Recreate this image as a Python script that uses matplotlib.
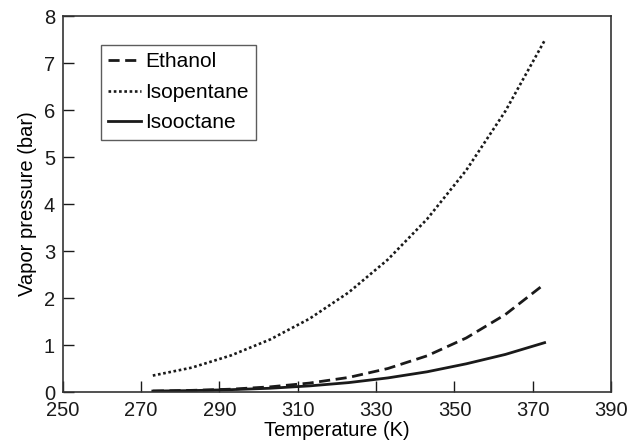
import numpy as np
import matplotlib
matplotlib.use('Agg')
import matplotlib.pyplot as plt

plt.rcParams['font.family'] = ['Liberation Sans', 'DejaVu Sans']

# Vapor pressure (bar)
temp = [273, 283, 293, 303, 313, 323, 333, 343, 353, 363, 373]
ethanol = [0.02, 0.035, 0.06, 0.11, 0.19, 0.31, 0.50, 0.77, 1.15, 1.65, 2.30]
isopentane = [0.35, 0.52, 0.78, 1.12, 1.56, 2.12, 2.82, 3.68, 4.72, 5.98, 7.48]
isooctane = [0.02, 0.03, 0.05, 0.08, 0.13, 0.20, 0.30, 0.43, 0.60, 0.80, 1.05]

fig = plt.figure(figsize=(6.4, 4.48), dpi=100)
ax = fig.add_axes([0.098, 0.125, 0.857, 0.839])

col = '#1a1a1a'
ax.plot(temp, ethanol, ls=(0, (4, 2)), color=col, lw=2.0, label='Ethanol')
ax.plot(temp, isopentane, ls=(0, (1, 1)), color=col, lw=1.9, label='Isopentane')
ax.plot(temp, isooctane, ls='-', color=col, lw=2.0, label='Isooctane')

ax.set_xlim(250, 390)
ax.set_ylim(0, 8)
ax.set_xticks(np.arange(250, 391, 20))
ax.set_yticks(np.arange(0, 9, 1))
ax.tick_params(direction='in', length=8, width=1, labelsize=14.5, colors=col,
               top=False, right=False)
ax.tick_params(axis='x', pad=6.5)
ax.tick_params(axis='y', pad=5.5)
for s in ax.spines.values():
    s.set_linewidth(1.2)
    s.set_color('#333333')

ax.set_xlabel('Temperature (K)', fontsize=14.5, labelpad=0.5)
ax.set_ylabel('Vapor pressure (bar)', fontsize=14.5, labelpad=5)

leg = ax.legend(loc='upper left', bbox_to_anchor=(0.069, 0.923), fontsize=15,
                frameon=True, fancybox=False, handlelength=1.6, handletextpad=0.2,
                borderpad=0.35, labelspacing=0.55, borderaxespad=0)
leg.get_frame().set_edgecolor('#333333')
leg.get_frame().set_linewidth(1.0)

fig.savefig('out.png', dpi=100)
